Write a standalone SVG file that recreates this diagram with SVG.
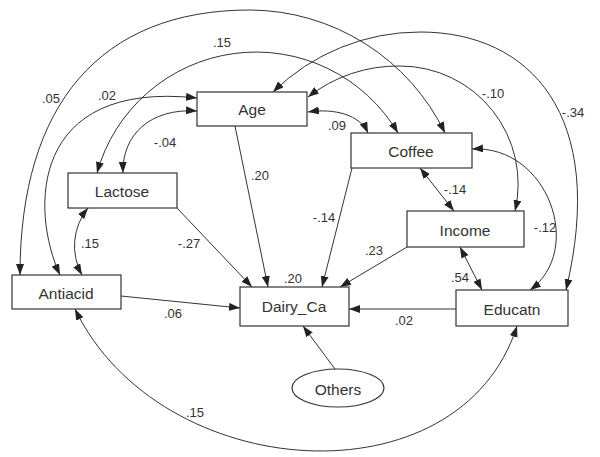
<svg xmlns="http://www.w3.org/2000/svg" width="600" height="457" viewBox="0 0 600 457">
<style>
.box{fill:#fff;stroke:#333;stroke-width:1.2}
.nt{font-family:"Liberation Sans",Arial,sans-serif;font-size:15.5px;fill:#333;text-anchor:middle}
.lb{font-family:"Liberation Sans",Arial,sans-serif;font-size:13px;fill:#333;text-anchor:middle}
.c{fill:none;stroke:#333;stroke-width:1}
.d{marker-end:url(#ah)}
.b{marker-start:url(#ah);marker-end:url(#ah)}
</style>
<defs>
<marker id="ah" markerUnits="userSpaceOnUse" markerWidth="11" markerHeight="8" refX="11" refY="4" orient="auto-start-reverse" viewBox="0 0 11 8"><path d="M0,0 L11,4 L0,8 z" fill="#222"/></marker>
</defs>
<rect width="600" height="457" fill="#fff"/>
<g id="connectors">
<path class="c d" d="M235,126 L268,287"/>
<path class="c d" d="M177,208 L252,287"/>
<path class="c d" d="M352,168 L322,287"/>
<path class="c d" d="M407,247 L340,287"/>
<path class="c d" d="M121,296 L240,308"/>
<path class="c d" d="M456,309 L349,309"/>
<path class="c d" d="M335,369 L303,326"/>
<path class="c b" d="M420,168 L454,211"/>
<path class="c b" d="M460,247 L482,290"/>
<path class="c b" d="M20,275 C20,105 100,10 250,10 A218,218 0 0 1 445,133"/>
<path class="c b" d="M97,173 A165,165 0 0 1 398,133"/>
<path class="c b" d="M197,98 C30,80 30,210 60,275"/>
<path class="c b" d="M197,111 C150,108 122,135 123,173"/>
<path class="c b" d="M308,112 C335,108 360,115 368,133"/>
<path class="c b" d="M308,97 A146,146 0 0 1 400,66 A118,118 0 0 1 515,211"/>
<path class="c b" d="M273,92 A210,210 0 0 1 420,32 C530,32 608,115 566,290"/>
<path class="c b" d="M472,149 C548,145 585,250 530,290"/>
<path class="c b" d="M88,208 A60,60 0 0 0 82,275"/>
<path class="c b" d="M75,309 C160,485 460,505 517,326"/>
</g>
<g id="labels">
<text class="lb" x="51" y="103">.05</text>
<text class="lb" x="107" y="100">.02</text>
<text class="lb" x="222" y="47">.15</text>
<text class="lb" x="165" y="147">-.04</text>
<text class="lb" x="337" y="130">.09</text>
<text class="lb" x="493" y="98">-.10</text>
<text class="lb" x="573" y="117">-.34</text>
<text class="lb" x="260" y="180">.20</text>
<text class="lb" x="189" y="248">-.27</text>
<text class="lb" x="90" y="248">.15</text>
<text class="lb" x="324" y="222">-.14</text>
<text class="lb" x="455" y="194">-.14</text>
<text class="lb" x="374" y="255">.23</text>
<text class="lb" x="545" y="232">-.12</text>
<text class="lb" x="460" y="282">.54</text>
<text class="lb" x="293" y="283">.20</text>
<text class="lb" x="173" y="318">.06</text>
<text class="lb" x="404" y="325">.02</text>
<text class="lb" x="195" y="417">.15</text>
</g>
<g id="node-age"><rect class="box" x="197" y="92" width="110" height="34"/><text class="nt" x="252" y="115">Age</text></g>
<g id="node-coffee"><rect class="box" x="351" y="133" width="121" height="35"/><text class="nt" x="411" y="157">Coffee</text></g>
<g id="node-lactose"><rect class="box" x="68" y="173" width="109" height="35"/><text class="nt" x="122" y="197">Lactose</text></g>
<g id="node-antiacid"><rect class="box" x="12" y="275" width="109" height="34"/><text class="nt" x="66" y="299">Antiacid</text></g>
<g id="node-dairy"><rect class="box" x="240" y="287" width="109" height="39"/><text class="nt" x="294" y="312">Dairy_Ca</text></g>
<g id="node-income"><rect class="box" x="407" y="211" width="117" height="36"/><text class="nt" x="465" y="236">Income</text></g>
<g id="node-educatn"><rect class="box" x="456" y="290" width="112" height="36"/><text class="nt" x="512" y="315">Educatn</text></g>
<g id="node-others"><ellipse class="box" cx="338" cy="388" rx="46" ry="19"/><text class="nt" x="338" y="395">Others</text></g>
</svg>
